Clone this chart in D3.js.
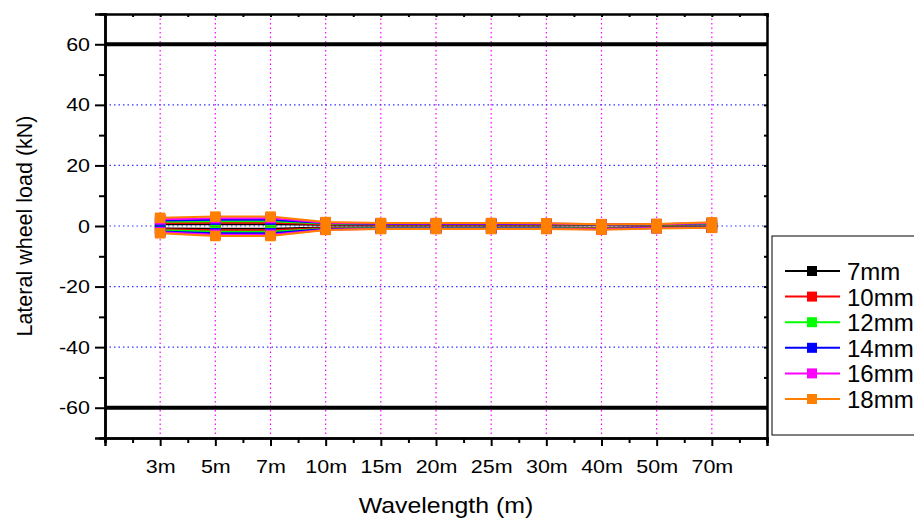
<!DOCTYPE html>
<html>
<head>
<meta charset="utf-8">
<script src="https://cdn.jsdelivr.net/npm/d3@7"></script>
<style>
  html, body { margin: 0; padding: 0; background: #fff; }
  svg { display: block; font-family: "Liberation Sans", Arial, Helvetica, sans-serif; }
</style>
</head>
<body>
<svg id="chart" width="914" height="519"></svg>
<script>
// wavelength categories
const wavelengths = ['3m', '5m', '7m', '10m', '15m', '20m', '25m', '30m', '40m', '50m', '70m'];
const seriesNames = ['7mm', '10mm', '12mm', '14mm', '16mm', '18mm'];
const seriesColors = ['#000000', '#ff0000', '#00ff00', '#0000ff', '#ff00ff', '#ff8000'];

// max (upper) and min (lower) lateral wheel load per series (kN)
const max7mm  = [0.6, 0.6, 0.6, 0.4, 0.4, 0.4, 0.4, 0.4, 0.3, 0.4, 0.5];
const min7mm  = [-0.8, -0.9, -0.9, -0.5, -0.5, -0.5, -0.5, -0.5, -0.6, -0.4, -0.3];
const max10mm = [1.0, 1.1, 1.1, 0.6, 0.5, 0.5, 0.5, 0.5, 0.4, 0.5, 0.6];
const min10mm = [-1.1, -1.4, -1.4, -0.7, -0.6, -0.6, -0.6, -0.6, -0.7, -0.5, -0.4];
const max12mm = [1.4, 1.6, 1.6, 0.8, 0.6, 0.6, 0.6, 0.6, 0.5, 0.5, 0.7];
const min12mm = [-1.4, -1.9, -1.9, -0.9, -0.7, -0.7, -0.7, -0.7, -0.9, -0.6, -0.5];
const max14mm = [1.8, 2.1, 2.1, 1.0, 0.7, 0.7, 0.7, 0.7, 0.5, 0.6, 0.9];
const min14mm = [-1.8, -2.4, -2.4, -1.0, -0.8, -0.8, -0.8, -0.8, -1.0, -0.7, -0.5];
const max16mm = [2.2, 2.6, 2.6, 1.1, 0.8, 0.8, 0.8, 0.8, 0.6, 0.6, 1.0];
const min16mm = [-2.1, -2.9, -2.9, -1.2, -0.9, -0.9, -0.9, -0.9, -1.1, -0.7, -0.6];
const max18mm = [2.7, 3.1, 3.1, 1.3, 1.0, 1.0, 1.0, 0.9, 0.6, 0.7, 1.2];
const min18mm = [-2.4, -3.3, -3.3, -1.3, -1.0, -1.0, -1.0, -1.0, -1.2, -0.8, -0.6];

const maxSeries = [max7mm, max10mm, max12mm, max14mm, max16mm, max18mm];
const minSeries = [min7mm, min10mm, min12mm, min14mm, min16mm, min18mm];

const yMajorTicks = [-60, -40, -20, 0, 20, 40, 60];
const yGridTicks = [-40, -20, 0, 20, 40];
const limitLines = [60, -60];

const svg = d3.select('#chart');
const plotLeft = 105, plotRight = 767, plotTop = 14, plotBottom = 438;
const stretch = 1.13;

const x = d3.scaleLinear().domain([0, wavelengths.length + 1]).range([plotLeft, plotRight]);
const y = d3.scaleLinear().domain([-70, 70]).range([plotBottom, plotTop]);

// grid lines
svg.append('g').selectAll('line')
  .data(wavelengths)
  .join('line')
  .attr('x1', (d, i) => x(i + 1)).attr('x2', (d, i) => x(i + 1))
  .attr('y1', plotTop).attr('y2', plotBottom)
  .attr('stroke', '#ff00ff').attr('stroke-width', 1.2)
  .attr('stroke-dasharray', '1.5,3');

svg.append('g').selectAll('line')
  .data(yGridTicks)
  .join('line')
  .attr('x1', plotLeft).attr('x2', plotRight)
  .attr('y1', d => y(d)).attr('y2', d => y(d))
  .attr('stroke', '#3333ff').attr('stroke-width', 1.2)
  .attr('stroke-dasharray', '1.5,3');

// limit lines at +-60
svg.append('g').selectAll('line')
  .data(limitLines)
  .join('line')
  .attr('x1', plotLeft).attr('x2', plotRight)
  .attr('y1', d => y(d)).attr('y2', d => y(d))
  .attr('stroke', '#000').attr('stroke-width', 4);

// axes
const halfSteps = d3.range(0, wavelengths.length + 1.5, 0.5);
const xMinor = halfSteps.filter(v => !(Number.isInteger(v) && v >= 1 && v <= wavelengths.length));
const xMajor = d3.range(1, wavelengths.length + 1);

const gx = svg.append('g').attr('transform', `translate(0,${plotBottom})`);
gx.call(d3.axisBottom(x).tickValues(xMinor).tickSize(5).tickFormat(''));
gx.append('g').call(d3.axisBottom(x).tickValues(xMajor).tickSize(8).tickPadding(14)
  .tickFormat(d => wavelengths[d - 1]));

const gTop = svg.append('g').attr('transform', `translate(0,${plotTop})`);
gTop.call(d3.axisTop(x).tickValues(halfSteps).tickSize(-3).tickFormat(''));

const yMinor = d3.range(-50, 60, 20);
const gy = svg.append('g').attr('transform', `translate(${plotLeft},0)`);
gy.call(d3.axisLeft(y).tickValues(yMinor).tickSize(6).tickFormat(''));
gy.append('g').call(d3.axisLeft(y).tickValues(yMajorTicks).tickSize(10).tickPadding(5)
  .tickFormat(d => String(d)));

const gRight = svg.append('g').attr('transform', `translate(${plotRight},0)`);
gRight.call(d3.axisRight(y).tickValues(d3.range(-60, 70, 10)).tickSize(-3).tickFormat(''));

svg.selectAll('.domain').attr('stroke', '#000').attr('stroke-width', 2.5);
svg.selectAll('.tick line').attr('stroke', '#000').attr('stroke-width', 2);
svg.selectAll('.tick text').attr('font-size', 19).attr('fill', '#000')
  .attr('font-family', '"Liberation Sans", Arial, Helvetica, sans-serif');

// series lines and markers
const line = d3.line().x((d, i) => x(i + 1)).y(d => y(d));
const ms = 10.5;

seriesNames.forEach((name, s) => {
  const g = svg.append('g').attr('class', 'series');
  [maxSeries[s], minSeries[s]].forEach(vals => {
    g.append('path')
      .attr('d', line(vals))
      .attr('fill', 'none')
      .attr('stroke', seriesColors[s])
      .attr('stroke-width', 2);
    g.selectAll(null)
      .data(vals)
      .join('rect')
      .attr('x', (d, i) => x(i + 1) - ms / 2)
      .attr('y', d => y(d) - ms / 2)
      .attr('width', ms).attr('height', ms)
      .attr('fill', seriesColors[s]);
  });
});

// axis titles
svg.append('text')
  .attr('class', 'stretch')
  .attr('x', 446).attr('y', 513)
  .attr('text-anchor', 'middle')
  .attr('font-size', 22)
  .text('Wavelength (m)');

svg.append('text')
  .attr('transform', `translate(32,${(plotTop + plotBottom) / 2}) rotate(-90)`)
  .attr('text-anchor', 'middle')
  .attr('font-size', 21.5)
  .text('Lateral wheel load (kN)');

// legend
const legend = svg.append('g');
legend.append('rect')
  .attr('x', 772).attr('y', 236).attr('width', 160).attr('height', 199)
  .attr('fill', '#fff').attr('stroke', '#000').attr('stroke-width', 1);

const ly = d3.scalePoint().domain(seriesNames).range([271, 399]);
const items = legend.selectAll('g.item')
  .data(seriesNames)
  .join('g')
  .attr('class', 'item')
  .attr('transform', d => `translate(0,${ly(d)})`);
items.append('line')
  .attr('x1', 785).attr('x2', 840)
  .attr('stroke', (d, i) => seriesColors[i]).attr('stroke-width', 2);
items.append('rect')
  .attr('x', 812 - 5).attr('y', -5).attr('width', 10).attr('height', 10)
  .attr('fill', (d, i) => seriesColors[i]);
items.append('text')
  .attr('x', 847).attr('y', 9)
  .attr('font-size', 24)
  .text(d => d);

// the source figure is horizontally stretched; widen axis texts to match
svg.selectAll('.tick text, text.stretch').each(function () {
  const w = this.getComputedTextLength();
  if (w > 0) {
    d3.select(this).attr('textLength', w * stretch).attr('lengthAdjust', 'spacingAndGlyphs');
  }
});
</script>
</body>
</html>
